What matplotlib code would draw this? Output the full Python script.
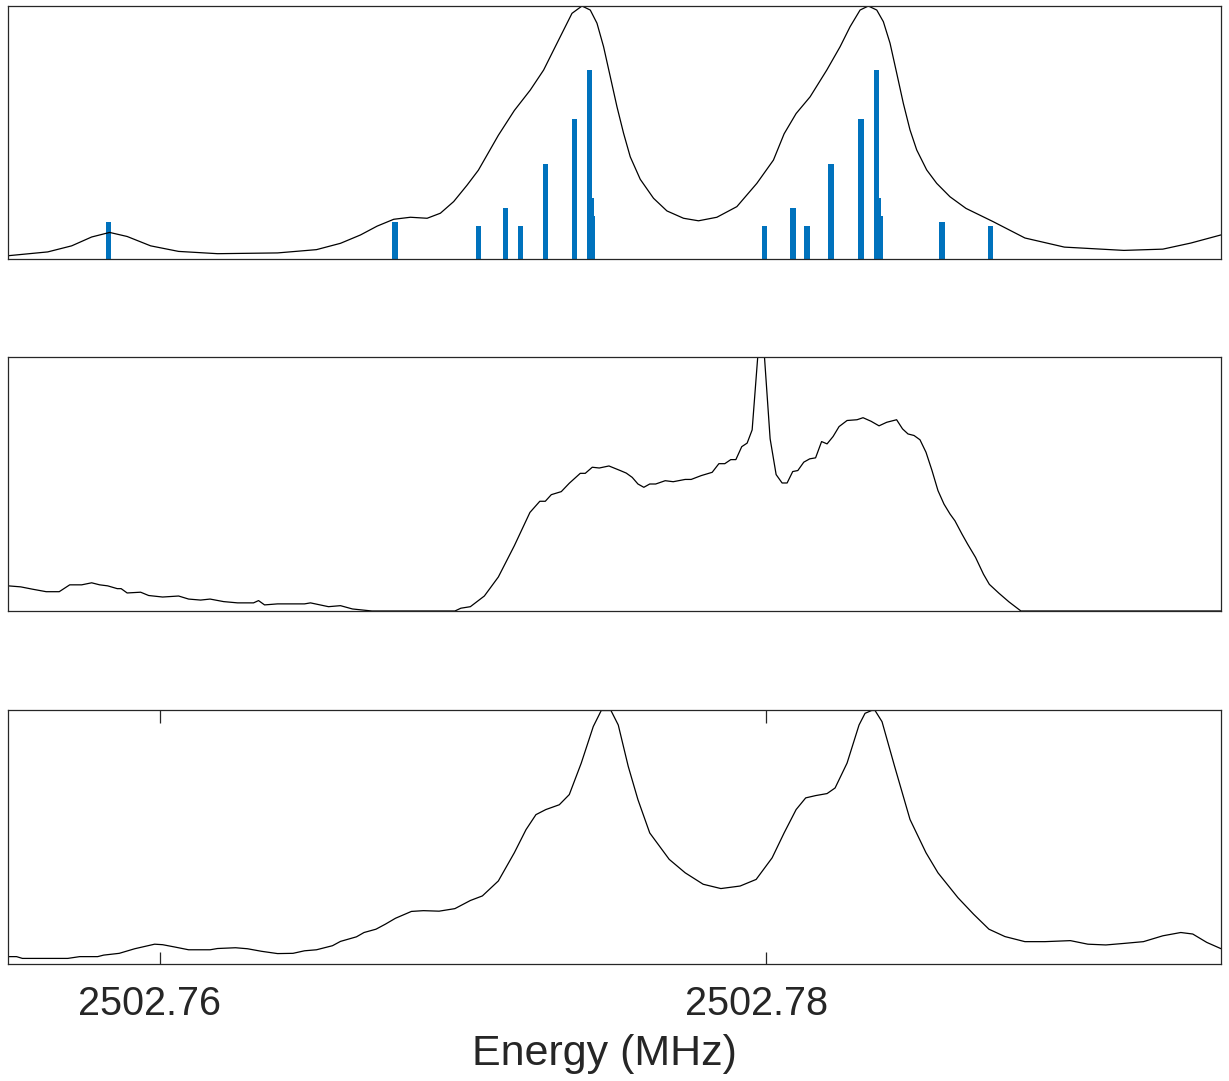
import numpy as np
import matplotlib
matplotlib.use("Agg")
import matplotlib.pyplot as plt
import matplotlib.transforms as mtransforms

# Offsets in kHz relative to 2502.76 MHz
F0 = 2502.76

# Panel 1: stick spectrum (transition positions and relative strengths)
stick_khz = [-1.697, 7.760, 10.511, 11.417, 11.911, 12.718, 13.674, 14.168, 14.221, 14.274,
             19.951, 20.890, 21.351, 22.142, 23.130, 23.651, 23.690, 23.756, 25.799, 27.400]
stick_amp = [0.145, 0.145, 0.131, 0.200, 0.131, 0.377, 0.554, 0.748, 0.241, 0.169,
             0.131, 0.200, 0.131, 0.377, 0.554, 0.748, 0.241, 0.169, 0.147, 0.131]

# Panel 1: simulated envelope
sim_khz = [-4.992, -3.690, -2.900, -2.241, -1.648, -1.071, -0.297, 0.626, 1.911, 3.888,
           5.173, 5.964, 6.623, 7.173, 7.720, 8.270, 8.821, 9.259, 9.697, 10.139,
           10.511, 11.170, 11.697, 12.224, 12.663, 12.992, 13.322, 13.598, 13.928, 14.201,
           14.422, 14.640, 14.860, 15.081, 15.299, 15.519, 15.849, 16.287, 16.729, 17.276,
           17.770, 18.376, 19.035, 19.694, 20.241, 20.594, 20.989, 21.450, 22.001, 22.439,
           22.768, 23.098, 23.371, 23.648, 23.866, 24.086, 24.307, 24.525, 24.745, 24.966,
           25.295, 25.625, 26.063, 26.591, 27.480, 28.535, 29.836, 31.797, 33.082, 34.004,
           35.026]
sim_val = [0.013, 0.028, 0.052, 0.087, 0.105, 0.089, 0.052, 0.030, 0.021, 0.024,
           0.037, 0.062, 0.095, 0.130, 0.157, 0.165, 0.161, 0.181, 0.227, 0.292,
           0.351, 0.489, 0.587, 0.668, 0.747, 0.826, 0.905, 0.971, 1.000, 0.984,
           0.932, 0.839, 0.721, 0.602, 0.497, 0.404, 0.315, 0.240, 0.190, 0.161,
           0.151, 0.165, 0.207, 0.299, 0.391, 0.495, 0.575, 0.641, 0.747, 0.839,
           0.918, 0.984, 1.000, 0.984, 0.938, 0.853, 0.734, 0.615, 0.510, 0.431,
           0.352, 0.299, 0.246, 0.200, 0.148, 0.083, 0.047, 0.034, 0.039, 0.063,
           0.096]

# Panel 2: measured signal
meas_khz = [-4.992, -4.580, -4.198, -3.740, -3.311, -2.965, -2.570, -2.241, -1.977, -1.713,
            -1.397, -1.269, -1.071, -0.626, -0.362, 0.099, 0.626, 0.956, 1.351, 1.664,
            2.109, 2.570, 3.097, 3.262, 3.460, 3.888, 4.778, 4.975, 5.568, 5.964,
            6.359, 7.002, 9.737, 9.934, 10.247, 10.708, 11.170, 11.697, 12.211, 12.537,
            12.718, 12.916, 13.245, 13.509, 13.871, 14.036, 14.267, 14.498, 14.817, 15.189,
            15.387, 15.585, 15.773, 15.967, 16.162, 16.359, 16.672, 16.936, 17.331, 17.529,
            17.858, 18.221, 18.442, 18.637, 18.834, 19.002, 19.196, 19.374, 19.539, 19.736,
            19.934, 20.132, 20.330, 20.527, 20.692, 20.877, 21.045, 21.242, 21.437, 21.631,
            21.829, 22.010, 22.208, 22.405, 22.669, 22.998, 23.196, 23.460, 23.723, 23.977,
            24.303, 24.498, 24.679, 24.877, 25.074, 25.272, 25.470, 25.667, 25.865, 26.063,
            26.227, 26.458, 26.646, 26.906, 27.167, 27.361, 27.677, 28.007, 28.402, 35.025]
meas_val = [0.099, 0.095, 0.086, 0.076, 0.076, 0.103, 0.103, 0.111, 0.103, 0.099,
            0.088, 0.088, 0.071, 0.074, 0.061, 0.055, 0.059, 0.047, 0.043, 0.047,
            0.037, 0.032, 0.032, 0.041, 0.024, 0.028, 0.028, 0.032, 0.017, 0.021,
            0.008, 0.000, 0.000, 0.011, 0.017, 0.059, 0.134, 0.257, 0.388, 0.432,
            0.432, 0.458, 0.470, 0.503, 0.542, 0.542, 0.566, 0.563, 0.571, 0.553,
            0.543, 0.526, 0.500, 0.487, 0.500, 0.500, 0.513, 0.509, 0.518, 0.518,
            0.533, 0.546, 0.580, 0.580, 0.596, 0.596, 0.647, 0.661, 0.713, 1.020,
            1.020, 0.678, 0.537, 0.504, 0.504, 0.549, 0.553, 0.586, 0.599, 0.603,
            0.667, 0.658, 0.687, 0.726, 0.750, 0.753, 0.761, 0.747, 0.729, 0.743,
            0.753, 0.717, 0.697, 0.691, 0.674, 0.625, 0.553, 0.474, 0.421, 0.382,
            0.355, 0.303, 0.263, 0.211, 0.145, 0.105, 0.070, 0.036, 0.000, 0.000]

# Panel 3: second measured signal
sig_khz = [-4.992, -4.718, -4.524, -3.031, -2.636, -2.043, -1.845, -1.331, -0.824, -0.165,
           0.099, 0.494, 0.956, 1.664, 1.911, 2.504, 2.900, 3.361, 3.888, 4.399,
           4.778, 5.173, 5.700, 5.964, 6.491, 6.741, 7.134, 7.447, 7.776, 8.303,
           8.699, 9.216, 9.737, 10.247, 10.643, 11.170, 11.697, 12.082, 12.409, 12.735,
           13.180, 13.509, 13.904, 14.300, 14.563, 14.883, 15.124, 15.453, 15.773, 16.162,
           16.804, 17.331, 17.924, 18.508, 19.143, 19.671, 20.198, 20.593, 20.989, 21.305,
           21.631, 22.010, 22.274, 22.669, 23.064, 23.262, 23.480, 23.592, 23.822, 24.237,
           24.745, 25.272, 25.667, 26.326, 26.841, 27.348, 27.875, 28.534, 29.193, 30.034,
           30.610, 31.203, 31.796, 32.442, 33.081, 33.674, 34.069, 34.531, 35.025]
sig_val = [0.029, 0.029, 0.022, 0.022, 0.029, 0.029, 0.035, 0.042, 0.060, 0.078,
           0.076, 0.067, 0.056, 0.056, 0.061, 0.064, 0.060, 0.050, 0.041, 0.042,
           0.052, 0.056, 0.072, 0.089, 0.107, 0.124, 0.137, 0.157, 0.180, 0.207,
           0.210, 0.208, 0.218, 0.250, 0.268, 0.327, 0.438, 0.529, 0.588, 0.608,
           0.627, 0.667, 0.791, 0.935, 0.998, 0.998, 0.941, 0.778, 0.647, 0.516,
           0.412, 0.359, 0.314, 0.297, 0.307, 0.333, 0.418, 0.516, 0.608, 0.654,
           0.663, 0.671, 0.693, 0.791, 0.941, 0.987, 0.998, 0.998, 0.954, 0.778,
           0.569, 0.438, 0.359, 0.261, 0.196, 0.137, 0.108, 0.088, 0.088, 0.092,
           0.078, 0.075, 0.081, 0.088, 0.111, 0.124, 0.118, 0.085, 0.059]


def mhz(khz):
    return F0 + np.asarray(khz) / 1000.0


edge = '#262626'
fig = plt.figure(figsize=(12.29, 10.81), dpi=100)
L, W, H = 8 / 1229, 1213 / 1229, 254 / 1081
ax1 = fig.add_axes([L, 1 - 259 / 1081, W, 253 / 1081])
ax2 = fig.add_axes([L, 1 - 611 / 1081, W, H])
ax3 = fig.add_axes([L, 1 - 964 / 1081, W, H])

ax1.bar(mhz(stick_khz), stick_amp, width=0.175e-3, color='#0072BD', linewidth=0)
ax1.plot(mhz(sim_khz), sim_val, color='black', lw=0.9)
ax2.plot(mhz(meas_khz), meas_val, color='black', lw=0.9)
ax3.plot(mhz(sig_khz), sig_val, color='black', lw=0.9)

for ax in (ax1, ax2, ax3):
    ax.set_xlim(2502.755, 2502.795)
    ax.set_ylim(0, 1)
    ax.set_yticks([])
    for s in ax.spines.values():
        s.set_color(edge)
        s.set_linewidth(0.9)

ax1.set_xticks([])
ax2.set_xticks([])
ax3.set_xticks([2502.76, 2502.78])
ax3.set_xticklabels(['2502.76', '2502.78'])
ax3.tick_params(axis='x', direction='in', top=True, length=9, width=0.9,
                color=edge, labelsize=28.5, labelcolor=edge, pad=15)
ax3.set_xlabel('Energy (MHz)', fontsize=31, color=edge, family='Liberation Sans',
               labelpad=8)

# text in the original sits ~10 px left of the tick marks
shift = mtransforms.ScaledTranslation(-0.1, 0, fig.dpi_scale_trans)
for t in ax3.get_xticklabels():
    t.set_family('Liberation Sans')
    t.set_transform(t.get_transform() + shift)
ax3.xaxis.label.set_transform(ax3.xaxis.label.get_transform() + shift)

fig.savefig('out.png', dpi=100)
